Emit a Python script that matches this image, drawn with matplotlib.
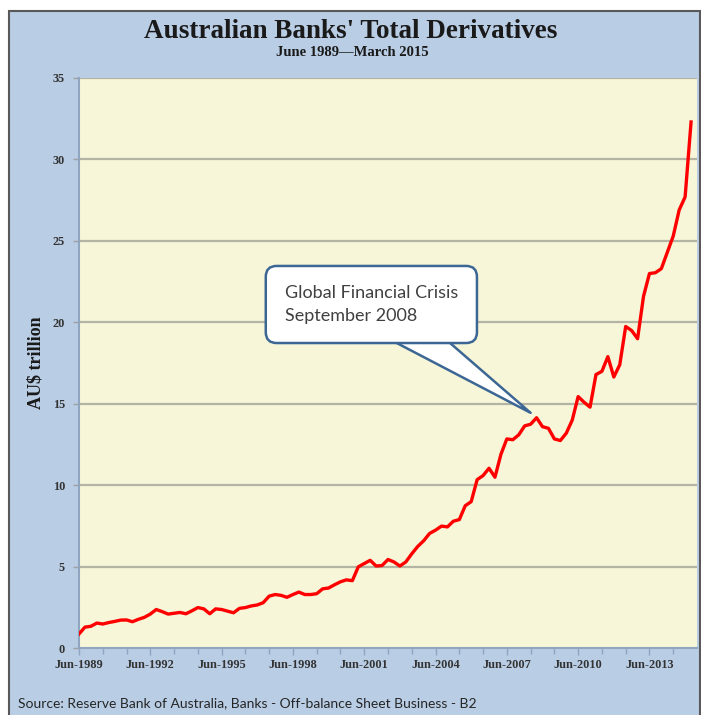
import matplotlib
matplotlib.use("Agg")
import matplotlib.pyplot as plt
from matplotlib.patches import Rectangle
import numpy as np
import pandas as pd

# quarterly total derivatives, AU$ trillion, Jun-1989 .. Mar-2015
quarters = pd.period_range("1989Q2", "2015Q1", freq="Q")
derivatives = [
    0.88, 1.30, 1.35, 1.55, 1.49, 1.58, 1.65, 1.73, 1.74, 1.63,
    1.78, 1.90, 2.10, 2.38, 2.25, 2.10, 2.15, 2.20, 2.12, 2.30,
    2.50, 2.42, 2.12, 2.42, 2.38, 2.28, 2.18, 2.45, 2.50, 2.60,
    2.66, 2.80, 3.20, 3.30, 3.25, 3.13, 3.30, 3.45, 3.30, 3.30,
    3.35, 3.65, 3.70, 3.90, 4.08, 4.20, 4.15, 5.00, 5.20, 5.40,
    5.05, 5.08, 5.45, 5.30, 5.05, 5.30, 5.80, 6.25, 6.60, 7.05,
    7.25, 7.50, 7.45, 7.80, 7.90, 8.75, 9.00, 10.35, 10.60, 11.05,
    10.50, 11.90, 12.85, 12.80, 13.10, 13.65, 13.75, 14.15, 13.60, 13.50,
    12.85, 12.75, 13.20, 14.00, 15.45, 15.10, 14.80, 16.80, 17.00, 17.90,
    16.65, 17.40, 19.75, 19.50, 19.00, 21.60, 23.00, 23.05, 23.30, 24.30,
    25.30, 26.90, 27.70, 32.30,
]
x_labels = ["Jun-1989", "Jun-1992", "Jun-1995", "Jun-1998", "Jun-2001",
            "Jun-2004", "Jun-2007", "Jun-2010", "Jun-2013"]
y_ticks = [0, 5, 10, 15, 20, 25, 30, 35]

title = "Australian Banks' Total Derivatives"
subtitle = "June 1989\u2014March 2015"
source = "Source: Reserve Bank of Australia, Banks - Off-balance Sheet Business - B2"
gfc_text = "Global Financial Crisis\nSeptember 2008"
gfc_quarter = pd.Period("2008Q3", freq="Q")

W, H = 701, 715
fig = plt.figure(figsize=(W / 100, H / 100), dpi=100)
fig.patch.set_facecolor("white")

# blue chart area with a dark border
fig.patches.append(Rectangle((9 / W, -0.01), (W - 10) / W, (H - 11) / H + 0.01,
                             transform=fig.transFigure, facecolor="#B9CDE5",
                             edgecolor="#595959", linewidth=1.5, zorder=-10))

ax = fig.add_axes([79 / W, (H - 648.3) / H, (697 - 79) / W, (648.3 - 78) / H])
ax.set_facecolor("#F7F6D8")

x = np.arange(len(derivatives))
ax.plot(x, derivatives, color="#FF0000", linewidth=2.4, zorder=3, solid_joinstyle="round")

ax.set_xlim(0, 104)
ax.set_ylim(0, 35)
ax.set_yticks(y_ticks)
ax.set_yticklabels([str(v) for v in y_ticks])
ax.set_xticks(np.arange(0, len(derivatives), 12))
ax.set_xticklabels(x_labels)
ax.set_xticks(np.arange(0, len(derivatives), 4), minor=True)

for v in y_ticks[1:]:
    ax.axhline(v, color="#B4B4A4", linewidth=1.6, zorder=1)

for s in ["top", "right"]:
    ax.spines[s].set_visible(False)
for s in ["left", "bottom"]:
    ax.spines[s].set_color("#8FA5C0")
    ax.spines[s].set_linewidth(1.5)

tick_font = {"family": "Liberation Serif", "weight": "bold", "size": 8.8}
ax.tick_params(axis="x", which="major", direction="out", length=5, width=1,
               color="#8FA5C0", pad=3)
ax.tick_params(axis="x", which="minor", direction="out", length=4, width=1,
               color="#8FA5C0")
ax.tick_params(axis="y", direction="out", length=4, width=1, color="#A0A0A0", pad=6)
for lab in ax.get_xticklabels() + ax.get_yticklabels():
    lab.set_fontproperties(tick_font)
    lab.set_color("#333333")

ax.set_ylabel("AU$ trillion", fontfamily="Liberation Serif", fontweight="bold",
              fontsize=13, color="#1A1A1A", labelpad=6)

fig.text(351 / W, 1 - 32 / H, title, ha="center", va="center",
         fontfamily="Liberation Serif", fontweight="bold", fontsize=19.5, color="#1A1A1A")
fig.text(352 / W, 1 - 53 / H, subtitle, ha="center", va="center",
         fontfamily="Liberation Serif", fontweight="bold", fontsize=10.5, color="#1A1A1A")
fig.text(18 / W, 1 - 703 / H, source, ha="left", va="center",
         fontfamily="Lato", fontsize=10, color="#262626")

# callout pointing at the GFC peak; the wedge starts inside the box so the
# white box hides its base
gfc_idx = quarters.get_loc(gfc_quarter)
ax.annotate(gfc_text, xy=(gfc_idx - 1.0, derivatives[gfc_idx] + 0.3),
            xytext=(49.2, 21.1), textcoords="data",
            ha="center", va="center", multialignment="left", linespacing=1.55,
            fontfamily="Lato", fontsize=13, color="#404040", zorder=5,
            bbox=dict(boxstyle="round,pad=1.05,rounding_size=0.6", fc="white",
                      ec="#3C6693", lw=1.8),
            arrowprops=dict(arrowstyle="wedge,tail_width=2.5,shrink_factor=0.5",
                            fc="white", ec="#3C6693", lw=1.8,
                            relpos=(0.5, 0.5), patchA=None, shrinkA=0, shrinkB=0))

fig.savefig("out.png", dpi=100, facecolor=fig.get_facecolor())
